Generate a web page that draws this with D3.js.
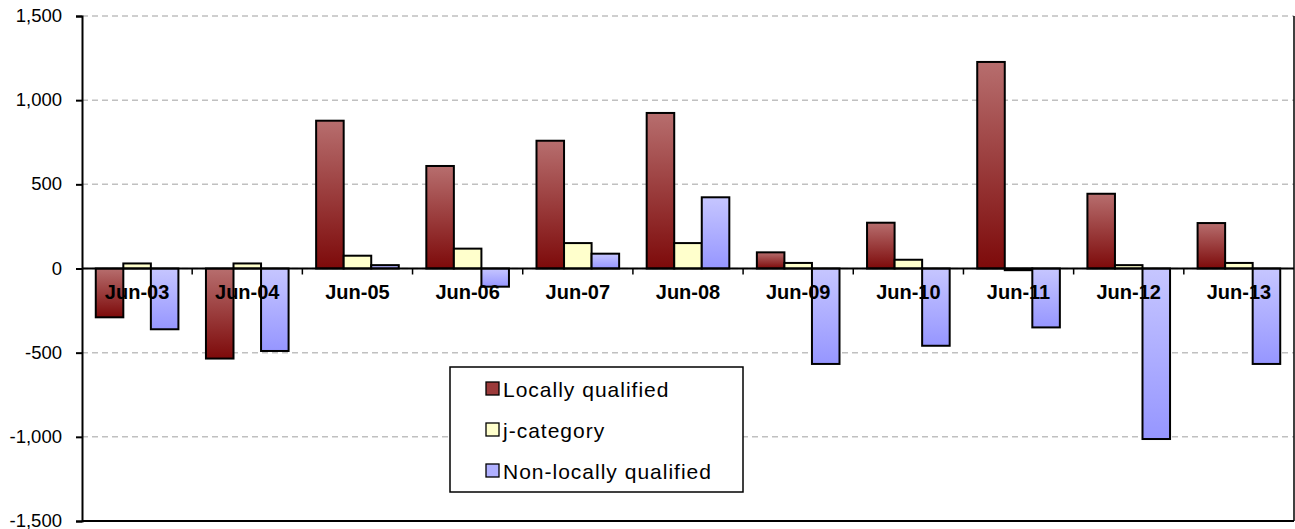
<!DOCTYPE html>
<html>
<head>
<meta charset="utf-8">
<script src="https://cdn.jsdelivr.net/npm/d3@7"></script>
<style>
  body { margin: 0; background: #fff; }
  svg { display: block; font-family: Arial, "Liberation Sans", sans-serif; }
</style>
</head>
<body>
<div id="chart"></div>
<script>
// data
var categories = ["Jun-03", "Jun-04", "Jun-05", "Jun-06", "Jun-07", "Jun-08", "Jun-09", "Jun-10", "Jun-11", "Jun-12", "Jun-13"];
var seriesNames = ["Locally qualified", "j-category", "Non-locally qualified"];
var locallyQualified = [-290, -535, 878, 609, 759, 924, 96, 272, 1227, 444, 270];
var jCategory = [30, 30, 76, 118, 151, 151, 33, 52, -10, 20, 33];
var nonLocallyQualified = [-361, -490, 20, -108, 88, 423, -567, -459, -350, -1013, -567];
var yTicks = [-1500, -1000, -500, 0, 500, 1000, 1500];

var width = 1295, height = 529;
var margin = {top: 16, right: 1, bottom: 8, left: 82};

var svg = d3.select("#chart").append("svg")
    .attr("width", width)
    .attr("height", height);

// gradients for the two shaded series
var defs = svg.append("defs");
function grad(id, top, bottom) {
  var g = defs.append("linearGradient").attr("id", id)
    .attr("x1", 0).attr("y1", 0).attr("x2", 0).attr("y2", 1);
  g.append("stop").attr("offset", "0%").attr("stop-color", top);
  g.append("stop").attr("offset", "100%").attr("stop-color", bottom);
}
grad("gRed", "#b76e6e", "#7d0a0a");
grad("gBlue", "#c6c6ff", "#9696ff");
var fills = ["url(#gRed)", "#ffffcc", "url(#gBlue)"];
var swatch = ["#9c3a3a", "#ffffcc", "#b0b0ff"];

var x0 = d3.scaleBand()
    .domain(categories)
    .range([margin.left, width - margin.right])
    .paddingInner(0.25)
    .paddingOuter(0.125);

var x1 = d3.scaleBand()
    .domain(d3.range(seriesNames.length))
    .range([0, x0.bandwidth()]);

var y = d3.scaleLinear()
    .domain([-1500, 1500])
    .range([height - margin.bottom, margin.top]);

// gridlines
svg.append("g")
  .selectAll("line")
  .data(yTicks)
  .enter().append("line")
    .attr("x1", margin.left)
    .attr("x2", width - margin.right)
    .attr("y1", function(d) { return y(d); })
    .attr("y2", function(d) { return y(d); })
    .attr("stroke", "#c0c0c0")
    .attr("stroke-width", 1.5)
    .attr("stroke-dasharray", "6,4");

// y axis (plain hyphen for negatives, like the original)
var fmt = d3.format(",");
var yAxis = svg.append("g")
    .attr("transform", "translate(" + margin.left + ",0)")
    .call(d3.axisLeft(y).tickValues(yTicks).tickSize(6).tickPadding(14)
      .tickFormat(function(d) { return fmt(d).replace("\u2212", "-"); }));
yAxis.select(".domain").attr("stroke", "#000").attr("stroke-width", 2);
yAxis.selectAll(".tick line").attr("stroke", "#000").attr("stroke-width", 2);
yAxis.selectAll("text").attr("font-size", "18.5px").attr("fill", "#000").attr("dy", "0.3em");

// right and bottom frame
svg.append("line")
    .attr("x1", width - margin.right).attr("x2", width - margin.right)
    .attr("y1", y(1500)).attr("y2", y(-1500))
    .attr("stroke", "#000").attr("stroke-width", 1.5);
svg.append("line")
    .attr("x1", margin.left).attr("x2", width - margin.right)
    .attr("y1", y(-1500)).attr("y2", y(-1500))
    .attr("stroke", "#000").attr("stroke-width", 2);

// bars
var rows = categories.map(function(c, i) {
  return {cat: c, values: [locallyQualified[i], jCategory[i], nonLocallyQualified[i]]};
});

var groups = svg.append("g").selectAll("g")
  .data(rows)
  .enter().append("g")
    .attr("transform", function(d) { return "translate(" + x0(d.cat) + ",0)"; });

groups.selectAll("rect")
  .data(function(d) { return d.values.map(function(v, k) { return {k: k, v: v}; }); })
  .enter().append("rect")
    .attr("x", function(d) { return x1(d.k); })
    .attr("width", x1.bandwidth())
    .attr("y", function(d) { return y(Math.max(0, d.v)); })
    .attr("height", function(d) { return Math.abs(y(d.v) - y(0)); })
    .attr("fill", function(d) { return fills[d.k]; })
    .attr("stroke", "#000")
    .attr("stroke-width", 2);

// zero line with category ticks
svg.append("line")
    .attr("x1", margin.left).attr("x2", width - margin.right)
    .attr("y1", y(0)).attr("y2", y(0))
    .attr("stroke", "#000").attr("stroke-width", 2);

var step = x0.step();
svg.append("g").selectAll("line")
  .data(categories.slice(1))
  .enter().append("line")
    .attr("x1", function(d) { return x0(d) - step * 0.125; })
    .attr("x2", function(d) { return x0(d) - step * 0.125; })
    .attr("y1", y(0))
    .attr("y2", y(0) + 6)
    .attr("stroke", "#000").attr("stroke-width", 1.5);

// category labels, drawn over the bars
svg.append("g").selectAll("text")
  .data(categories)
  .enter().append("text")
    .attr("x", function(d) { return x0(d) + x0.bandwidth() / 2; })
    .attr("y", y(0) + 30)
    .attr("text-anchor", "middle")
    .attr("font-size", "20px")
    .attr("font-weight", "bold")
    .attr("fill", "#000")
    .text(function(d) { return d; });

// legend
var legend = svg.append("g").attr("transform", "translate(450,367)");
legend.append("rect")
    .attr("width", 293).attr("height", 125)
    .attr("fill", "#fff").attr("stroke", "#000").attr("stroke-width", 1.5);

var items = legend.selectAll("g.item")
  .data(seriesNames)
  .enter().append("g")
    .attr("class", "item")
    .attr("transform", function(d, i) { return "translate(36," + (22 + i * 41) + ")"; });

items.append("rect")
    .attr("x", 0).attr("y", -7)
    .attr("width", 13).attr("height", 13)
    .attr("fill", function(d, i) { return swatch[i]; })
    .attr("stroke", "#000").attr("stroke-width", 1.3);

items.append("text")
    .attr("x", 17)
    .attr("y", 0)
    .attr("dy", "0.36em")
    .attr("font-size", "21px")
    .attr("letter-spacing", "1px")
    .attr("fill", "#000")
    .text(function(d) { return d; });
</script>
</body>
</html>
